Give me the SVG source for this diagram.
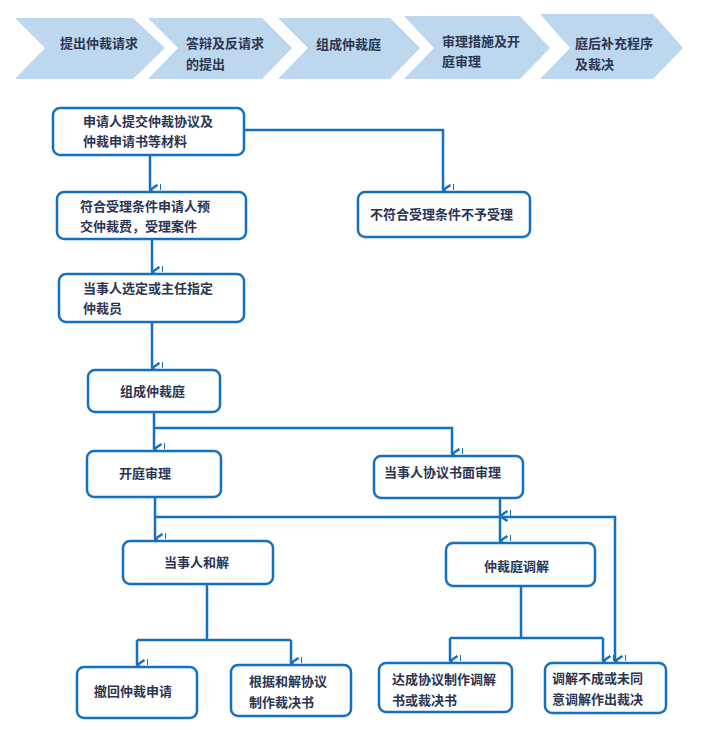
<svg xmlns="http://www.w3.org/2000/svg" width="702" height="730" viewBox="0 0 702 730">
<style>
text{font-family:"Noto Sans CJK SC","Liberation Sans",sans-serif;font-weight:bold;font-size:13px;fill:#2b3552}
.chev{fill:#bdd7ee}
.box{fill:#fff;stroke:#1670c0;stroke-width:2.5}
.ln{fill:none;stroke:#1670c0;stroke-width:2.5}
</style>
<defs>
<marker id="a" viewBox="0 0 10 10" refX="5" refY="9" markerWidth="5" markerHeight="5" orient="auto-start-reverse" markerUnits="strokeWidth">
<path d="M0 0 L5 0 M1 3 L5 9 L9 3" fill="none" stroke="#1670c0" stroke-width="2"/>
</marker>
</defs>
<g id="banner">
<polygon class="chev" points="15,18 133,18 165,48 133,79 15,79 45,48"/>
<polygon class="chev" points="148,18 262,18 292,48 262,79 148,79 178,48"/>
<polygon class="chev" points="278,18 390,18 420,48 390,79 278,79 308,48"/>
<polygon class="chev" points="404,16 520,16 550,48 520,79 404,79 434,48"/>
<polygon class="chev" points="540,14 653,14 683,48 653,79 540,79 570,48"/>
<text x="60" y="48">提出仲裁请求</text>
<text x="186" y="48">答辩及反请求</text><text x="186" y="69">的提出</text>
<text x="316" y="49">组成仲裁庭</text>
<text x="442" y="46">审理措施及开</text><text x="442" y="66">庭审理</text>
<text x="575" y="48">庭后补充程序</text><text x="575" y="69">及裁决</text>
</g>
<g id="connectors">
<path class="ln" d="M150 155 V190" marker-end="url(#a)"/>
<path class="ln" d="M244 130 H443 V190" marker-end="url(#a)"/>
<path class="ln" d="M152 239 V272" marker-end="url(#a)"/>
<path class="ln" d="M152 322 V368" marker-end="url(#a)"/>
<path class="ln" d="M154 412 V449" marker-end="url(#a)"/>
<path class="ln" d="M154 428 H452 V454" marker-end="url(#a)"/>
<path class="ln" d="M155 497 V539" marker-end="url(#a)"/>
<path class="ln" d="M155 517 H615 V661" marker-end="url(#a)"/>
<path class="ln" d="M500 498 V516" marker-end="url(#a)"/>
<path class="ln" d="M500 517 V541" marker-end="url(#a)"/>
<path class="ln" d="M207 584 V640"/>
<path class="ln" d="M137 640 H291"/>
<path class="ln" d="M137 640 V665" marker-end="url(#a)"/>
<path class="ln" d="M291 640 V663" marker-end="url(#a)"/>
<path class="ln" d="M521 586 V638"/>
<path class="ln" d="M450 638 H603"/>
<path class="ln" d="M450 638 V661" marker-end="url(#a)"/>
<path class="ln" d="M603 638 V661" marker-end="url(#a)"/>
</g>
<g id="n1"><rect class="box" x="53" y="108" width="191" height="47" rx="7"/><text x="83" y="126">申请人提交仲裁协议及</text><text x="83" y="146">仲裁申请书等材料</text></g>
<g id="n2"><rect class="box" x="57" y="192" width="189" height="47" rx="7"/><text x="80" y="211">符合受理条件申请人预</text><text x="80" y="231">交仲裁费，受理案件</text></g>
<g id="n3"><rect class="box" x="358" y="192" width="172" height="45" rx="7"/><text x="370" y="219">不符合受理条件不予受理</text></g>
<g id="n4"><rect class="box" x="59" y="274" width="185" height="48" rx="7"/><text x="83" y="293">当事人选定或主任指定</text><text x="83" y="313">仲裁员</text></g>
<g id="n5"><rect class="box" x="88" y="370" width="132" height="42" rx="7"/><text x="120" y="396">组成仲裁庭</text></g>
<g id="n6"><rect class="box" x="87" y="451" width="134" height="46" rx="7"/><text x="119" y="478">开庭审理</text></g>
<g id="n7"><rect class="box" x="374" y="456" width="149" height="42" rx="7"/><text x="384" y="477">当事人协议书面审理</text></g>
<g id="n8"><rect class="box" x="123" y="541" width="150" height="43" rx="7"/><text x="164" y="567">当事人和解</text></g>
<g id="n9"><rect class="box" x="446" y="543" width="149" height="43" rx="7"/><text x="484" y="571">仲裁庭调解</text></g>
<g id="n10"><rect class="box" x="77" y="667" width="120" height="51" rx="7"/><text x="94" y="696">撤回仲裁申请</text></g>
<g id="n11"><rect class="box" x="231" y="665" width="120" height="51" rx="7"/><text x="249" y="686">根据和解协议</text><text x="249" y="707">制作裁决书</text></g>
<g id="n12"><rect class="box" x="379" y="663" width="133" height="49" rx="7"/><text x="392" y="684">达成协议制作调解</text><text x="392" y="705">书或裁决书</text></g>
<g id="n13"><rect class="box" x="545" y="663" width="121" height="50" rx="7"/><text x="552" y="683">调解不成或未同</text><text x="552" y="704">意调解作出裁决</text></g>
</svg>
